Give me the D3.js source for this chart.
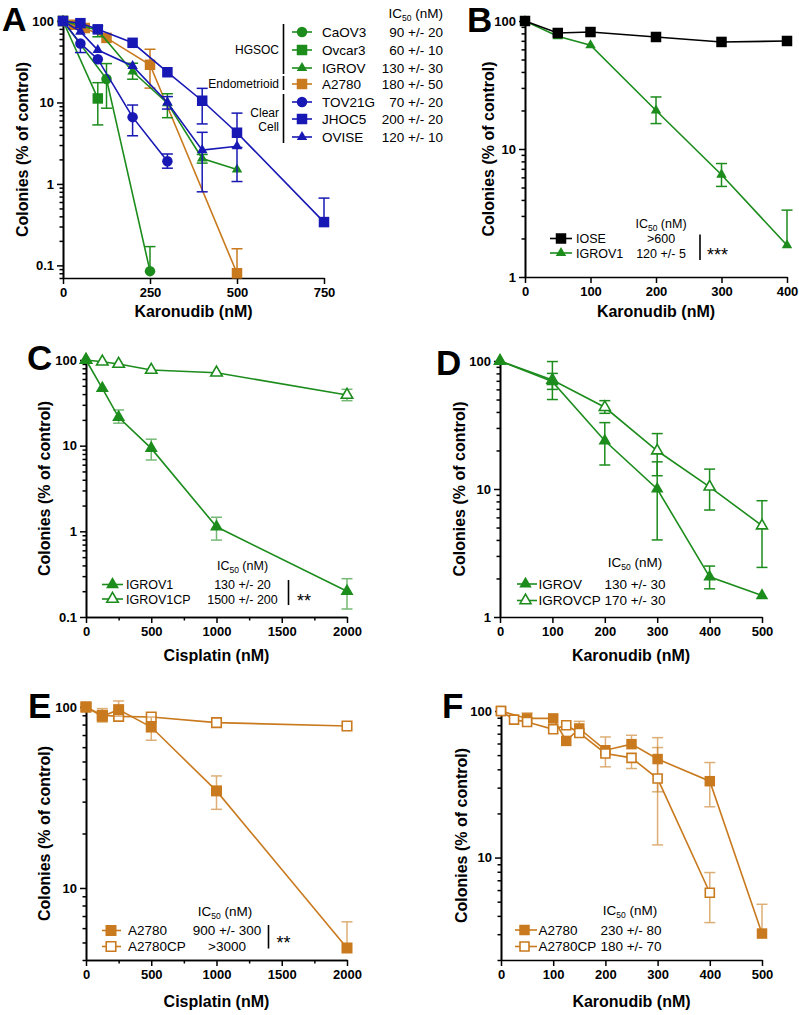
<!DOCTYPE html>
<html>
<head>
<meta charset="utf-8">
<script src="https://cdn.jsdelivr.net/npm/d3@7"></script>
<style>
  body { margin: 0; background: #fff; }
  svg { font-family: "Liberation Sans", Arial, Helvetica, sans-serif; }
</style>
</head>
<body>
<svg id="fig" width="799" height="1015"></svg>
<script>
var GREEN = "#1c8c1c", BLUE = "#1818b4", ORANGE = "#c97a1e", BLACK = "#000";

/*** Panel A : Karonudib on ovarian cancer lines ***/
var aCaov3X = [0, 125, 250];
var aCaov3Y = [100, 19.4, 0.085];
var aCaov3Lo = [null, 8.5, null];
var aCaov3Hi = [null, 30, 0.17];

var aOvcar3X = [0, 100];
var aOvcar3Y = [100, 11.2];
var aOvcar3Lo = [null, 5.3];
var aOvcar3Hi = [null, 17.5];

var aIgrovX = [0, 100, 200, 300, 400, 500];
var aIgrovY = [100, 77, 24, 9.8, 2.05, 1.5];
var aIgrovLo = [null, 64, 19.3, 6.5, 1.8, null];
var aIgrovHi = [null, 87, 30.3, 12.8, 2.3, null];

var aA2780X = [0, 31.25, 62.5, 125, 250, 500];
var aA2780Y = [100, 90, 82, 62, 29, 0.08];
var aA2780Lo = [null, null, null, null, 15, null];
var aA2780Hi = [null, null, null, null, 45, 0.16];

var aTov21gX = [0, 50, 100, 200, 300];
var aTov21gY = [100, 53, 34, 6.6, 1.9];
var aTov21gLo = [null, 41, null, 3.9, 1.56];
var aTov21gHi = [null, null, null, 9.3, 2.33];

var aJhoc5X = [0, 50, 100, 200, 300, 400, 500, 750];
var aJhoc5Y = [100, 94, 79, 54, 23.5, 10.5, 4.25, 0.34];
var aJhoc5Lo = [null, null, null, null, null, 5.45, 2.8, null];
var aJhoc5Hi = [null, null, null, null, null, 14.9, 7.4, 0.67];

var aOviseX = [0, 50, 100, 200, 300, 400, 500];
var aOviseY = [100, 74, 44, 28, 10, 2.6, 2.9];
var aOviseLo = [null, null, null, null, 8.3, 0.8, 1.07];
var aOviseHi = [null, null, null, null, 11.8, 4.3, null];

var aNames = ["CaOV3", "Ovcar3", "IGROV", "A2780", "TOV21G", "JHOC5", "OVISE"];
var aIc50 = ["90 +/- 20", "60 +/- 10", "130 +/- 30", "180 +/- 50", "70 +/- 20", "200 +/- 20", "120 +/- 10"];
var aGroups = ["HGSOC", "Endometrioid", "Clear|Cell"];
var aXTicks = [0, 250, 500, 750];
var aYTicks = [0.1, 1, 10, 100];

/*** Panel B : IOSE vs IGROV1, Karonudib ***/
var bIoseX = [0, 50, 100, 200, 300, 400];
var bIoseY = [100, 80.6, 82, 75, 68.6, 69.8];
var bIgrov1X = [0, 50, 100, 200, 300, 400];
var bIgrov1Y = [100, 76, 64.6, 20, 6.3, 1.77];
var bIgrov1Lo = [null, null, null, 15.8, 5.1, null];
var bIgrov1Hi = [null, null, null, 25.5, 7.7, 3.33];
var bNames = ["IOSE", "IGROV1"];
var bIc50 = [">600", "120 +/- 5"];
var bXTicks = [0, 100, 200, 300, 400];
var bYTicks = [1, 10, 100];

/*** Panel C : IGROV1 vs IGROV1CP, Cisplatin ***/
var cIgrov1X = [0, 125, 250, 500, 1000, 2000];
var cIgrov1Y = [100, 46.7, 21.4, 9.3, 1.13, 0.2];
var cIgrov1Lo = [null, null, 18.3, 6.8, 0.79, 0.124];
var cIgrov1Hi = [null, null, 26.1, 11.9, 1.46, 0.28];
var cIgrov1cpX = [0, 125, 250, 500, 1000, 2000];
var cIgrov1cpY = [100, 95.5, 89.8, 76.5, 71, 39.1];
var cIgrov1cpLo = [null, null, null, null, null, 33.5];
var cIgrov1cpHi = [null, null, null, null, null, 45.5];
var cNames = ["IGROV1", "IGROV1CP"];
var cIc50 = ["130 +/- 20", "1500 +/- 200"];
var cXTicks = [0, 500, 1000, 1500, 2000];
var cXMinor = [250, 750, 1250, 1750];
var cYTicks = [0.1, 1, 10, 100];

/*** Panel D : IGROV vs IGROVCP, Karonudib ***/
var dIgrovX = [0, 100, 200, 300, 400, 500];
var dIgrovY = [100, 69, 23.8, 10, 2.06, 1.47];
var dIgrovLo = [null, 50, 15.4, 4.0, 1.66, null];
var dIgrovHi = [null, 80, 33, 16.3, 2.5, null];
var dIgrovcpX = [0, 100, 200, 300, 400, 500];
var dIgrovcpY = [100, 71, 43.5, 19.9, 10.4, 5.17];
var dIgrovcpLo = [null, 60, 39, 12.7, 6.85, 2.44];
var dIgrovcpHi = [null, 99, 49, 27.1, 14.3, 8.1];
var dNames = ["IGROV", "IGROVCP"];
var dIc50 = ["130 +/- 30", "170 +/- 30"];
var dXTicks = [0, 100, 200, 300, 400, 500];
var dYTicks = [1, 10, 100];

/*** Panel E : A2780 vs A2780CP, Cisplatin ***/
var eA2780X = [0, 125, 250, 500, 1000, 2000];
var eA2780Y = [100, 88.8, 96.7, 77.5, 34.4, 4.66];
var eA2780Lo = [null, 82.6, 89, 65.5, 27.2, null];
var eA2780Hi = [null, 98, 108, 88, 41.6, 6.5];
var eA2780cpX = [0, 125, 250, 500, 1000, 2000];
var eA2780cpY = [100, 90, 88.8, 88, 82, 78.5];
var eNames = ["A2780", "A2780CP"];
var eIc50 = ["900 +/- 300", ">3000"];
var eXTicks = [0, 500, 1000, 1500, 2000];
var eXMinor = [250, 750, 1250, 1750];
var eYTicks = [10, 100];

/*** Panel F : A2780 vs A2780CP, Karonudib ***/
var fA2780X = [0, 50, 100, 125, 150, 200, 250, 300, 400, 500];
var fA2780Y = [100, 89, 89, 62.5, 76, 54, 59.4, 47, 33.2, 3.03];
var fA2780Lo = [null, null, null, null, null, null, null, 28.1, 22.2, null];
var fA2780Hi = [null, 97, null, null, 85, 66.5, 68.3, 65.8, 44.5, 4.8];
var fA2780cpX = [0, 25, 50, 100, 125, 150, 200, 250, 300, 400];
var fA2780cpY = [100, 87.3, 84.2, 75, 80, 70.8, 51.3, 47.9, 34.6, 5.75];
var fA2780cpLo = [null, null, null, null, null, null, 41.6, 40.5, 12.2, 3.6];
var fA2780cpHi = [null, null, null, null, null, null, null, null, 56.3, 7.9];
var fNames = ["A2780", "A2780CP"];
var fIc50 = ["230 +/- 80", "180 +/- 70"];
var fXTicks = [0, 100, 200, 300, 400, 500];
var fYTicks = [10, 100];

var svg = d3.select("#fig");
var YLABEL = "Colonies (% of control)";

function series(name, x, y, lo, hi, color, marker, open) {
    return {name: name, x: x, y: y, lo: lo || null, hi: hi || null,
            color: color, marker: marker, open: !!open};
}

var panels = [
    { letter: "A", letterPos: [2, 31], letterSize: 34,
      xDomain: [0, 750], xRange: [63, 324], yDomain: [0.07, 100], yRange: [278, 21],
      xTicks: aXTicks, yTicks: aYTicks, xTitle: "Karonudib (nM)", xTitleY: 317, yTitleX: 28,
      mSize: 10.5, errOpacity: 1,
      series: [
        series(aNames[0], aCaov3X, aCaov3Y, aCaov3Lo, aCaov3Hi, GREEN, "circle"),
        series(aNames[1], aOvcar3X, aOvcar3Y, aOvcar3Lo, aOvcar3Hi, GREEN, "square"),
        series(aNames[2], aIgrovX, aIgrovY, aIgrovLo, aIgrovHi, GREEN, "triangle"),
        series(aNames[3], aA2780X, aA2780Y, aA2780Lo, aA2780Hi, ORANGE, "square"),
        series(aNames[4], aTov21gX, aTov21gY, aTov21gLo, aTov21gHi, BLUE, "circle"),
        series(aNames[5], aJhoc5X, aJhoc5Y, aJhoc5Lo, aJhoc5Hi, BLUE, "square"),
        series(aNames[6], aOviseX, aOviseY, aOviseLo, aOviseHi, BLUE, "triangle")
      ],
      drawOrder: [3, 2, 1, 0, 6, 5, 4],
      legend: { values: aIc50, headerX: 443, headerY: 18, anchor: "end", valueX: 443, font: 13.5,
                rows: [32, 50, 68, 84, 102, 119, 137], lineX: [292, 312], markX: 302, nameX: 322 }
    },
    { letter: "B", letterPos: [467, 32],
      xDomain: [0, 400], xRange: [525, 787], yDomain: [1, 100], yRange: [277, 21],
      xTicks: bXTicks, yTicks: bYTicks, xTitle: "Karonudib (nM)", xTitleY: 317, yTitleX: 494,
      mSize: 10.5, errOpacity: 1,
      series: [
        series(bNames[0], bIoseX, bIoseY, null, null, BLACK, "square"),
        series(bNames[1], bIgrov1X, bIgrov1Y, bIgrov1Lo, bIgrov1Hi, GREEN, "triangle")
      ],
      drawOrder: [1, 0],
      legend: { values: bIc50, headerX: 661, headerY: 227.5, anchor: "middle", valueX: 661, font: 12.5,
                rows: [238.5, 253], lineX: [550, 572], markX: 561, nameX: 576,
                bar: [700, 234.5, 260], stars: "***", starsX: 707, starsY: 250 }
    },
    { letter: "C", letterPos: [27, 370],
      xDomain: [0, 2000], xRange: [86, 347], yDomain: [0.1, 100], yRange: [617, 360],
      xTicks: cXTicks, xMinor: cXMinor, yTicks: cYTicks, xTitle: "Cisplatin (nM)", xTitleY: 661, yTitleX: 50,
      mSize: 13, errOpacity: 0.6,
      series: [
        series(cNames[0], cIgrov1X, cIgrov1Y, cIgrov1Lo, cIgrov1Hi, GREEN, "triangle"),
        series(cNames[1], cIgrov1cpX, cIgrov1cpY, cIgrov1cpLo, cIgrov1cpHi, GREEN, "triangle", true)
      ],
      drawOrder: [1, 0],
      legend: { values: cIc50, headerX: 242.5, headerY: 569.5, anchor: "middle", valueX: 242.5, font: 12.5,
                rows: [584.5, 599], lineX: [102, 123], markX: 112.5, nameX: 126,
                bar: [288.5, 580, 605], stars: "**", starsX: 297, starsY: 596.5 }
    },
    { letter: "D", letterPos: [436, 375],
      xDomain: [0, 500], xRange: [500, 762], yDomain: [1, 100], yRange: [617, 361],
      xTicks: dXTicks, yTicks: dYTicks, xTitle: "Karonudib (nM)", xTitleY: 661, yTitleX: 465,
      mSize: 12.5, errOpacity: 1,
      series: [
        series(dNames[0], dIgrovX, dIgrovY, dIgrovLo, dIgrovHi, GREEN, "triangle"),
        series(dNames[1], dIgrovcpX, dIgrovcpY, dIgrovcpLo, dIgrovcpHi, GREEN, "triangle", true)
      ],
      drawOrder: [1, 0],
      legend: { values: dIc50, headerX: 635, headerY: 567, anchor: "middle", valueX: 635, font: 13.5,
                rows: [584, 600.5], lineX: [517, 537], markX: 525.5, nameX: 538.5 }
    },
    { letter: "E", letterPos: [28, 718],
      xDomain: [0, 2000], xRange: [86, 347], yDomain: [4, 100], yRange: [960, 707],
      xTicks: eXTicks, xMinor: eXMinor, yTicks: eYTicks, xTitle: "Cisplatin (nM)", xTitleY: 1007, yTitleX: 50,
      mSize: 11, errOpacity: 0.6,
      series: [
        series(eNames[0], eA2780X, eA2780Y, eA2780Lo, eA2780Hi, ORANGE, "square"),
        series(eNames[1], eA2780cpX, eA2780cpY, null, null, ORANGE, "square", true)
      ],
      drawOrder: [1, 0],
      legend: { values: eIc50, headerX: 225, headerY: 916, anchor: "middle", valueX: 227, font: 13.5,
                rows: [930.5, 946.5], lineX: [102, 121], markX: 111, nameX: 128,
                bar: [268.5, 925, 948.5], stars: "**", starsX: 276.5, starsY: 938 }
    },
    { letter: "F", letterPos: [442, 718],
      xDomain: [0, 500], xRange: [501, 762], yDomain: [2, 100], yRange: [960, 711],
      xTicks: fXTicks, yTicks: fYTicks, xTitle: "Karonudib (nM)", xTitleY: 1007, yTitleX: 467,
      mSize: 10.5, errOpacity: 0.6,
      series: [
        series(fNames[0], fA2780X, fA2780Y, fA2780Lo, fA2780Hi, ORANGE, "square"),
        series(fNames[1], fA2780cpX, fA2780cpY, fA2780cpLo, fA2780cpHi, ORANGE, "square", true)
      ],
      drawOrder: [0, 1],
      legend: { values: fIc50, headerX: 630, headerY: 914.5, anchor: "middle", valueX: 631, font: 13.5,
                rows: [930, 946.5], lineX: [515, 537], markX: 524.5, nameX: 538.5 }
    }
];

// marker path, "size" is roughly the visible width in px
function markerPath(kind, size) {
    if (kind == "circle") return d3.symbol(d3.symbolCircle, Math.PI * Math.pow(size / 2, 2))();
    if (kind == "square") return d3.symbol(d3.symbolSquare, size * size)();
    return d3.symbol(d3.symbolTriangle, size * size * Math.sqrt(3) / 4)();
}

function logMinor(dom) {
    var out = [];
    for (var e = Math.floor(Math.log10(dom[0])); e < Math.log10(dom[1]); e++) {
        for (var k = 2; k <= 9; k++) {
            var v = k * Math.pow(10, e);
            if (v >= dom[0] - 1e-9 && v <= dom[1]) out.push(v);
        }
    }
    return out;
}

function styleAxis(sel) {
    sel.select(".domain").attr("stroke", BLACK).attr("stroke-width", 1.6);
    sel.selectAll(".tick line").attr("stroke", BLACK).attr("stroke-width", 1.5);
    sel.selectAll("text").attr("font-size", "13px").attr("font-weight", "bold")
        .attr("fill", BLACK).attr("font-family", null);
    sel.attr("font-family", null).attr("font-size", null);
}

function drawPanel(p) {
    var g = svg.append("g");
    var x = d3.scaleLinear().domain(p.xDomain).range(p.xRange);
    var y = d3.scaleLog().domain(p.yDomain).range(p.yRange);
    var y0 = p.yRange[0], x0 = p.xRange[0];

    /* axes */
    if (p.xMinor) {
        g.append("g").attr("transform", "translate(0," + y0 + ")")
            .call(d3.axisBottom(x).tickValues(p.xMinor).tickSize(3.5).tickSizeOuter(0).tickFormat(""))
            .call(styleAxis);
    }
    g.append("g").attr("transform", "translate(0," + y0 + ")")
        .call(d3.axisBottom(x).tickValues(p.xTicks).tickSize(6).tickSizeOuter(0).tickPadding(4)
            .tickFormat(d => d.toString()))
        .call(styleAxis);
    g.append("g").attr("transform", "translate(" + x0 + ",0)")
        .call(d3.axisLeft(y).tickValues(logMinor(p.yDomain)).tickSize(3.5).tickSizeOuter(0).tickFormat(""))
        .call(styleAxis);
    g.append("g").attr("transform", "translate(" + x0 + ",0)")
        .call(d3.axisLeft(y).tickValues(p.yTicks).tickSize(6).tickSizeOuter(0).tickPadding(3)
            .tickFormat(d => d.toString()))
        .call(styleAxis);

    /* titles */
    g.append("text")
        .attr("x", (p.xRange[0] + p.xRange[1]) / 2)
        .attr("y", p.xTitleY)
        .attr("text-anchor", "middle")
        .attr("font-size", "16px").attr("font-weight", "bold")
        .text(p.xTitle);
    var ym = (p.yRange[0] + p.yRange[1]) / 2;
    g.append("text")
        .attr("transform", "translate(" + p.yTitleX + "," + ym + ") rotate(-90)")
        .attr("text-anchor", "middle")
        .attr("font-size", "16px").attr("font-weight", "bold")
        .text(YLABEL);
    g.append("text")
        .attr("x", p.letterPos[0]).attr("y", p.letterPos[1])
        .attr("font-size", (p.letterSize || 35) + "px").attr("font-weight", "bold")
        .text(p.letter);

    /* data */
    var line = d3.line().x(d => x(d.x)).y(d => y(d.y));
    p.drawOrder.forEach(function(si) {
        var s = p.series[si];
        var pts = s.x.map(function(xv, i) {
            return {x: xv, y: s.y[i], lo: s.lo ? s.lo[i] : null, hi: s.hi ? s.hi[i] : null};
        });
        g.append("path")
            .datum(pts)
            .attr("d", line)
            .attr("fill", "none")
            .attr("stroke", s.color)
            .attr("stroke-width", 1.6);

        // error bars
        var eb = g.append("g").attr("stroke", s.color).attr("stroke-width", 1.5)
            .attr("opacity", p.errOpacity);
        pts.forEach(function(d) {
            if (d.lo == null && d.hi == null) return;
            var cx = x(d.x);
            var yTop = d.hi != null ? y(d.hi) : y(d.y);
            var yBot = d.lo != null ? Math.min(y(d.lo), y0) : y(d.y);
            eb.append("line").attr("x1", cx).attr("x2", cx).attr("y1", yTop).attr("y2", yBot);
            if (d.hi != null)
                eb.append("line").attr("x1", cx - 5.5).attr("x2", cx + 5.5).attr("y1", yTop).attr("y2", yTop);
            if (d.lo != null && y(d.lo) < y0)
                eb.append("line").attr("x1", cx - 5.5).attr("x2", cx + 5.5).attr("y1", yBot).attr("y2", yBot);
        });

        var msz = s.open ? p.mSize - 1.5 : p.mSize;
        g.selectAll(null)
            .data(pts)
            .enter()
            .append("path")
            .attr("transform", d => "translate(" + x(d.x) + "," + y(d.y) + ")")
            .attr("d", markerPath(s.marker, msz))
            .attr("fill", s.open ? "#fff" : s.color)
            .attr("stroke", s.color)
            .attr("stroke-width", s.open ? 1.6 : 0);
    });

    /* legend */
    var L = p.legend;
    var fs = L.font + "px";
    var hdr = g.append("text")
        .attr("x", L.headerX).attr("y", L.headerY)
        .attr("text-anchor", L.anchor)
        .attr("font-size", fs);
    hdr.append("tspan").text("IC");
    hdr.append("tspan").attr("font-size", "8.5px").attr("dy", 3).text("50");
    hdr.append("tspan").attr("dy", -3).text(" (nM)");

    p.series.forEach(function(s, i) {
        var ry = L.rows[i];
        g.append("line")
            .attr("x1", L.lineX[0]).attr("x2", L.lineX[1])
            .attr("y1", ry).attr("y2", ry)
            .attr("stroke", s.color).attr("stroke-width", 1.6);
        var msz = s.open ? p.mSize - 1.5 : p.mSize;
        g.append("path")
            .attr("transform", "translate(" + L.markX + "," + ry + ")")
            .attr("d", markerPath(s.marker, msz))
            .attr("fill", s.open ? "#fff" : s.color)
            .attr("stroke", s.color)
            .attr("stroke-width", s.open ? 1.6 : 0);
        g.append("text")
            .attr("x", L.nameX).attr("y", ry).attr("dy", "0.36em")
            .attr("font-size", fs)
            .text(s.name);
        g.append("text")
            .attr("x", L.valueX).attr("y", ry).attr("dy", "0.36em")
            .attr("text-anchor", L.anchor)
            .attr("font-size", fs)
            .text(L.values[i]);
    });

    if (L.bar) {
        g.append("line")
            .attr("x1", L.bar[0]).attr("x2", L.bar[0])
            .attr("y1", L.bar[1]).attr("y2", L.bar[2])
            .attr("stroke", BLACK).attr("stroke-width", 1.6);
        g.append("text")
            .attr("x", L.starsX).attr("y", L.starsY).attr("dy", "0.6em")
            .attr("font-size", "18px")
            .text(L.stars);
    }
}

panels.forEach(drawPanel);

/* Panel A: grouping of the cell lines */
var groupRows = [[0, 2], [3, 3], [4, 6]];
var aRows = panels[0].legend.rows;
groupRows.forEach(function(r, i) {
    var top = aRows[r[0]] - 8, bot = aRows[r[1]] + 6;
    svg.append("line")
        .attr("x1", 283.5).attr("x2", 283.5)
        .attr("y1", top).attr("y2", bot)
        .attr("stroke", BLACK).attr("stroke-width", 1.6);
    var parts = aGroups[i].split("|");
    var mid = (aRows[r[0]] + aRows[r[1]]) / 2;
    parts.forEach(function(t, k) {
        svg.append("text")
            .attr("x", 279)
            .attr("y", mid + (k - (parts.length - 1) / 2) * 14)
            .attr("dy", "0.36em")
            .attr("text-anchor", "end")
            .attr("font-size", "12px")
            .text(t);
    });
});
</script>
</body>
</html>
